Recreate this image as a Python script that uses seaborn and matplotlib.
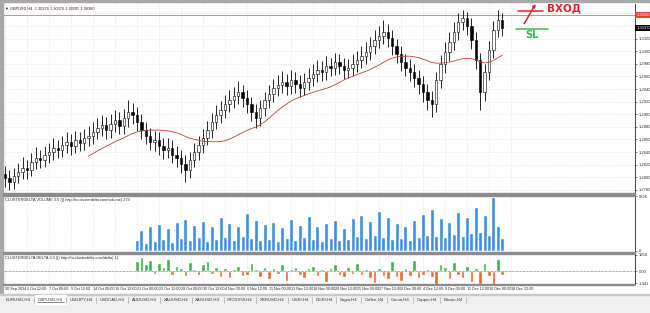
import matplotlib
matplotlib.use("Agg")
import matplotlib.pyplot as plt
import matplotlib.transforms as mtransforms
from matplotlib.patches import Rectangle
from matplotlib.ticker import MultipleLocator, FuncFormatter
import seaborn as sns
import numpy as np
import pandas as pd

sns.set_style("white")
plt.rcParams['font.family'] = ['Liberation Sans', 'DejaVu Sans']

# ---------------- data ----------------
first_open = 1.2805
closes = [1.2799, 1.2793, 1.2802, 1.2808, 1.2815, 1.2812, 1.2824, 1.2831, 1.2828, 1.2835,
          1.2840, 1.2847, 1.2843, 1.2851, 1.2856, 1.2850, 1.2859, 1.2855, 1.2862, 1.2866,
          1.2872, 1.2878, 1.2883, 1.2875, 1.2885, 1.2891, 1.2881, 1.2894, 1.2904, 1.2899,
          1.2888, 1.2875, 1.2866, 1.2856, 1.2859, 1.2850, 1.2843, 1.2847, 1.2835, 1.2831,
          1.2821, 1.2812, 1.2828, 1.2840, 1.2851, 1.2862, 1.2875, 1.2888, 1.2899, 1.2907,
          1.2916, 1.2923, 1.2929, 1.2935, 1.2926, 1.2916, 1.2904, 1.2894, 1.2910, 1.2923,
          1.2932, 1.2942, 1.2947, 1.2951, 1.2945, 1.2954, 1.2948, 1.2942, 1.2951, 1.2958,
          1.2964, 1.2970, 1.2967, 1.2977, 1.2974, 1.2983, 1.2977, 1.2970, 1.2974, 1.2980,
          1.2986, 1.2993, 1.2999, 1.3008, 1.3018, 1.3024, 1.3031, 1.3021, 1.3008, 1.2996,
          1.2983, 1.2974, 1.2967, 1.2958, 1.2948, 1.2935, 1.2923, 1.2916, 1.2954, 1.2980,
          1.2999, 1.3015, 1.3031, 1.3047, 1.3053, 1.3040, 1.3018, 1.2986, 1.2935, 1.2967,
          1.3002, 1.3034, 1.3050, 1.3037]
highs = [1.2818, 1.2812, 1.2815, 1.2822, 1.2832, 1.2827, 1.2838, 1.2848, 1.2843, 1.2849,
         1.2855, 1.2862, 1.2859, 1.2865, 1.2872, 1.2868, 1.2874, 1.2872, 1.2877, 1.2881,
         1.2888, 1.2894, 1.2899, 1.2896, 1.2900, 1.2907, 1.2903, 1.2909, 1.2922, 1.2918,
         1.2911, 1.2900, 1.2888, 1.2878, 1.2873, 1.2872, 1.2863, 1.2862, 1.2859, 1.2849,
         1.2844, 1.2835, 1.2840, 1.2854, 1.2865, 1.2876, 1.2890, 1.2902, 1.2914, 1.2921,
         1.2931, 1.2939, 1.2944, 1.2952, 1.2947, 1.2938, 1.2928, 1.2916, 1.2923, 1.2936,
         1.2947, 1.2956, 1.2963, 1.2968, 1.2964, 1.2970, 1.2967, 1.2962, 1.2966, 1.2973,
         1.2979, 1.2986, 1.2984, 1.2992, 1.2990, 1.2998, 1.2996, 1.2990, 1.2988, 1.2995,
         1.3001, 1.3008, 1.3015, 1.3023, 1.3033, 1.3040, 1.3049, 1.3044, 1.3033, 1.3020,
         1.3008, 1.2996, 1.2987, 1.2979, 1.2970, 1.2961, 1.2948, 1.2937, 1.2967, 1.2994,
         1.3014, 1.3030, 1.3046, 1.3060, 1.3066, 1.3063, 1.3052, 1.3030, 1.2998, 1.2980,
         1.3016, 1.3048, 1.3066, 1.3060]
lows = [1.2784, 1.2779, 1.2782, 1.2791, 1.2797, 1.2798, 1.2802, 1.2813, 1.2814, 1.2816,
        1.2823, 1.2828, 1.2830, 1.2832, 1.2839, 1.2836, 1.2839, 1.2842, 1.2843, 1.2850,
        1.2853, 1.2860, 1.2865, 1.2861, 1.2863, 1.2872, 1.2868, 1.2869, 1.2880, 1.2884,
        1.2874, 1.2861, 1.2852, 1.2843, 1.2841, 1.2836, 1.2829, 1.2830, 1.2822, 1.2816,
        1.2806, 1.2793, 1.2799, 1.2816, 1.2828, 1.2839, 1.2851, 1.2863, 1.2876, 1.2886,
        1.2894, 1.2903, 1.2910, 1.2916, 1.2912, 1.2902, 1.2890, 1.2878, 1.2882, 1.2898,
        1.2910, 1.2920, 1.2929, 1.2933, 1.2931, 1.2932, 1.2934, 1.2928, 1.2930, 1.2938,
        1.2945, 1.2951, 1.2953, 1.2954, 1.2960, 1.2962, 1.2964, 1.2956, 1.2957, 1.2961,
        1.2967, 1.2973, 1.2980, 1.2986, 1.2995, 1.3005, 1.3011, 1.3007, 1.2994, 1.2982,
        1.2969, 1.2960, 1.2952, 1.2944, 1.2932, 1.2920, 1.2907, 1.2896, 1.2904, 1.2941,
        1.2966, 1.2985, 1.3002, 1.3018, 1.3033, 1.3026, 1.3004, 1.2972, 1.2907, 1.2921,
        1.2954, 1.2989, 1.3022, 1.3024]

indicator_start = 30
volumes = [1200, 2200, 900, 2600, 1100, 2900, 1300, 2400, 1000, 3100,
           1400, 3400, 1200, 2800, 1500, 3200, 1100, 2600, 1300, 3600,
           1500, 3000, 1200, 2700, 1600, 4000, 1400, 3300, 1200, 2900,
           1300, 3100, 1100, 2500, 1400, 3400, 1200, 2800, 1500, 3700,
           1300, 2600, 1100, 3000, 1400, 3300, 1200, 2400, 1300, 3500,
           1600, 3800, 1400, 3200, 1700, 4200, 1500, 3600, 1300, 3000,
           1400, 2700, 1200, 3300, 1500, 3900, 1700, 4400, 1600, 3500,
           1500, 3100, 1800, 4100, 1600, 3600, 1900, 4700, 2000, 3800,
           1700, 5700, 2600, 1400]
deltas = [900, 1200, 600, 1000, -200, 700, 400, 1100, -300, 500,
          300, -400, 800, 200, -300, 600, 900, -200, 400, -500,
          300, -600, 200, 500, -400, -300, 700, 200, -500, 400,
          -700, 300, -200, 600, -800, 200, 400, -300, -600, 300,
          500, -400, 200, -900, 300, 600, -300, -500, 400, -200,
          700, -300, 200, -600, -1000, 300, -400, -700, 900, -500,
          -800, 300, -400, 1000, -600, -300, 200, -500, -1380, 600,
          400, -700, 800, -300, -600, 500, -900, 300, -1100, 700,
          -400, -1300, 1100, -300]

date_labels = ["30 Sep 2024", "2 Oct 12:00", "7 Oct 00:00", "9 Oct 12:00", "14 Oct 00:00",
               "16 Oct 12:00", "21 Oct 00:00", "23 Oct 12:00", "28 Oct 00:00", "30 Oct 12:00",
               "4 Nov 00:00", "6 Nov 12:00", "11 Nov 00:00", "13 Nov 12:00", "18 Nov 00:00",
               "20 Nov 12:00", "25 Nov 00:00", "27 Nov 12:00", "2 Dec 00:00", "4 Dec 12:00",
               "9 Dec 00:00", "11 Dec 12:00", "16 Dec 00:00", "18 Dec 12:00"]
candles_per_label = 5

level_price = 1.3058
entry_price = 1.3064
sl_price = 1.3035
entry_bar = 116.6          # where the hand-drawn entry mark starts (bar index)

tabs = ["EURUSD,H4", "GBPUSD,H4", "USDJPY,H4", "USDCAD,H4", "AUDUSD,H4", "XAUUSD,H4",
        "XAGUSD,H4", "STOXX50,H4", "XBRUSD,H4", "US30,H4", "DE30,H4", "Sugar,H4",
        "Coffee,H4", "Cocoa,H4", "Copper,H4", "Bitcoin,H4"]
active_tab = "GBPUSD,H4"

header_main = "\u25bc GBPUSD,H4  1.30376 1.30376 1.30205 1.30360"
header_vol = "CLUSTERDELTA VOLUME 3.0 (|) http://ru.clusterdelta.com/volume) 279"
header_delta = "CLUSTERDELTA DELTA 3.0 (|) http://ru.clusterdelta.com/delta) 1)"

# ---------------- figure ----------------
W, H = 650, 313
fig = plt.figure(figsize=(6.5, 3.13), dpi=100)
fig.patch.set_facecolor("white")


def rect(l, t, r, b):
    return [l / W, 1 - b / H, (r - l) / W, (b - t) / H]


ax = fig.add_axes(rect(3, 4, 635, 193))
axv = fig.add_axes(rect(3, 196, 635, 251))
axd = fig.add_axes(rect(3, 254, 635, 284))

n = len(closes)
df = pd.DataFrame({"i": np.arange(n), "close": closes, "high": highs, "low": lows})
df["open"] = np.r_[first_open, df["close"].values[:-1]]
bull = df["close"] >= df["open"]

ax.vlines(df["i"], df["low"], df["high"], color="black", lw=0.6, zorder=2)
ax.bar(df["i"][bull], (df["close"] - df["open"])[bull], bottom=df["open"][bull],
       width=0.55, color="white", edgecolor="black", lw=0.4, zorder=3)
ax.bar(df["i"][~bull], (df["open"] - df["close"])[~bull], bottom=df["close"][~bull],
       width=0.55, color="black", edgecolor="black", lw=0.4, zorder=3)

df["ma"] = df["close"].rolling(20).mean()
sns.lineplot(data=df, x="i", y="ma", color="#b8443a", lw=0.6, ax=ax, zorder=4)

ax.axhline(level_price, color="#e07070", lw=0.6, zorder=1)

# volume
vdf = pd.DataFrame({"i": indicator_start + np.arange(len(volumes)), "v": volumes})
sns.barplot(data=vdf, x="i", y="v", native_scale=True, color="#3d8fe3", width=0.9,
            saturation=1, errorbar=None, ax=axv, zorder=3)

# delta
ddf = pd.DataFrame({"i": indicator_start + np.arange(len(deltas)), "d": deltas})
ddf["sign"] = np.where(ddf["d"] >= 0, "pos", "neg")
sns.barplot(data=ddf, x="i", y="d", hue="sign", native_scale=True, dodge=False,
            palette={"pos": "#3cb54a", "neg": "#e8692b"}, width=0.8, saturation=1,
            errorbar=None, legend=False, ax=axd, zorder=3)
axd.axhline(0, color="#555555", lw=0.5, ls=(0, (1, 1)), zorder=4)

# ---------------- axes styling ----------------
xmin = -0.4545
xmax = xmin + 632 / 4.4
tick_pos = np.arange(len(date_labels)) * candles_per_label
for a in (ax, axv, axd):
    a.set_xlim(xmin, xmax)
    a.set_xlabel("")
    a.set_ylabel("")
    a.set_xticks(tick_pos)
    a.yaxis.tick_right()
    a.tick_params(axis="y", labelsize=3, length=1.5, width=0.4, pad=1, colors="#333333")
    a.tick_params(axis="x", length=0)
    for s in ("left", "top", "bottom"):
        a.spines[s].set_visible(False)
    a.spines["right"].set_color("#222222")
    a.spines["right"].set_linewidth(0.6)
    a.set_axisbelow(True)

ax.grid(True, color="#e4e4e4", lw=0.5, ls=(0, (1, 1)))
axv.grid(True, axis="x", color="#e4e4e4", lw=0.5, ls=(0, (1, 1)))
axd.grid(True, axis="x", color="#e4e4e4", lw=0.5, ls=(0, (1, 1)))

ax.set_ylim(1.2775, 1.3075)
ax.yaxis.set_major_locator(MultipleLocator(0.0020))


def price_fmt(v, pos):
    if abs(v - level_price) < 0.0008 or abs(v - closes[-1]) < 0.0008:
        return ""
    return f"{v:.4f}"


ax.yaxis.set_major_formatter(FuncFormatter(price_fmt))
ax.set_xticklabels([])
axv.set_xticklabels([])

axv.set_ylim(0, 5826)
axv.set_yticks([0, 5826])
axv.set_yticklabels(["0", "5826"])

axd.set_ylim(-1100, 1500)
axd.set_yticks([-1050, 0, 1420])
axd.set_yticklabels(["-1441", "0.00", "1856"])
axd.set_xticklabels(date_labels, fontsize=2.7, ha="left", color="#222222")
axd.tick_params(axis="x", pad=2.5)

# price boxes on the right scale
trans = mtransforms.blended_transform_factory(ax.transAxes, ax.transData)
ax.text(1.002, level_price, f"{level_price:.5f}", transform=trans, fontsize=3,
        color="white", va="center", ha="left", clip_on=False,
        bbox=dict(boxstyle="square,pad=0.25", fc="#e8413c", ec="none"))
ax.text(1.002, closes[-1], f"{closes[-1]:.5f}", transform=trans, fontsize=3,
        color="white", va="center", ha="left", clip_on=False,
        bbox=dict(boxstyle="square,pad=0.25", fc="black", ec="none"))

# headers
ax.text(0.003, 0.985, header_main, transform=ax.transAxes, fontsize=2.8, va="top", ha="left")
axv.text(0.003, 0.97, header_vol, transform=axv.transAxes, fontsize=2.8, va="top", ha="left")
axd.text(0.003, 0.95, header_delta, transform=axd.transAxes, fontsize=2.8, va="top", ha="left")

# hand drawn entry / stop marks
ax.plot([entry_bar, entry_bar + 5.7], [entry_price, entry_price], color="#e0202a", lw=1.1,
        clip_on=False, zorder=5)
ax.annotate("", xy=(entry_bar + 4.3, 1.3079), xytext=(entry_bar + 1.1, 1.3040),
            arrowprops=dict(arrowstyle="-|>", color="#e0202a", lw=1.1, mutation_scale=4),
            annotation_clip=False, zorder=5)
ax.text(entry_bar + 6.6, entry_price + 0.0004, "ВХОД", color="#e0202a", fontsize=7.5,
        fontweight="bold", va="center", ha="left", family=["DejaVu Sans"])
ax.plot([entry_bar - 0.5, entry_bar + 6.8], [sl_price, sl_price], color="#3cb54a", lw=1.1,
        zorder=5)
ax.text(entry_bar + 3.2, sl_price - 0.0009, "SL", color="#3cb54a", fontsize=7,
        fontweight="bold", va="center", ha="center", family=["DejaVu Sans"])

# window frame pieces
def fig_rect(l, t, r, b, color, z=0):
    fig.patches.append(Rectangle((l / W, 1 - b / H), (r - l) / W, (b - t) / H,
                                 transform=fig.transFigure, color=color, zorder=z))

fig_rect(0, 0, 650, 1.5, "#a8a8a8")
fig_rect(0, 0, 3, 294, "#a8a8a8")
fig_rect(3, 193, 635, 195.5, "#8c8c8c")
fig_rect(3, 251.5, 635, 253.5, "#8c8c8c")
fig_rect(3, 284, 635, 285, "#8c8c8c")
fig_rect(0, 294, 650, 313, "#f0f0f0")
fig_rect(0, 294, 650, 294.6, "#c8c8c8")

# tab bar
renderer = fig.canvas.get_renderer()
x = 6.0
for name in tabs:
    t = fig.text(x / W, 1 - 299.5 / H, name, fontsize=3.1, va="center", ha="left",
                 color="#333333", zorder=3)
    bb = t.get_window_extent(renderer)
    w = bb.width
    if name == active_tab:
        fig_rect(x - 3, 294.6, x + w + 3, 303.5, "white", z=1)
        fig.lines.append(plt.Line2D([(x - 1) / W, (x + w + 1) / W],
                                    [1 - 302 / H, 1 - 302 / H],
                                    transform=fig.transFigure, color="#333333", lw=0.4))
    sep_x = x + w + 3.5
    fig.lines.append(plt.Line2D([sep_x / W, sep_x / W], [1 - 296.5 / H, 1 - 302.5 / H],
                                transform=fig.transFigure, color="#999999", lw=0.4))
    x = sep_x + 3.5

fig.savefig("out.png", dpi=100, facecolor="white")
